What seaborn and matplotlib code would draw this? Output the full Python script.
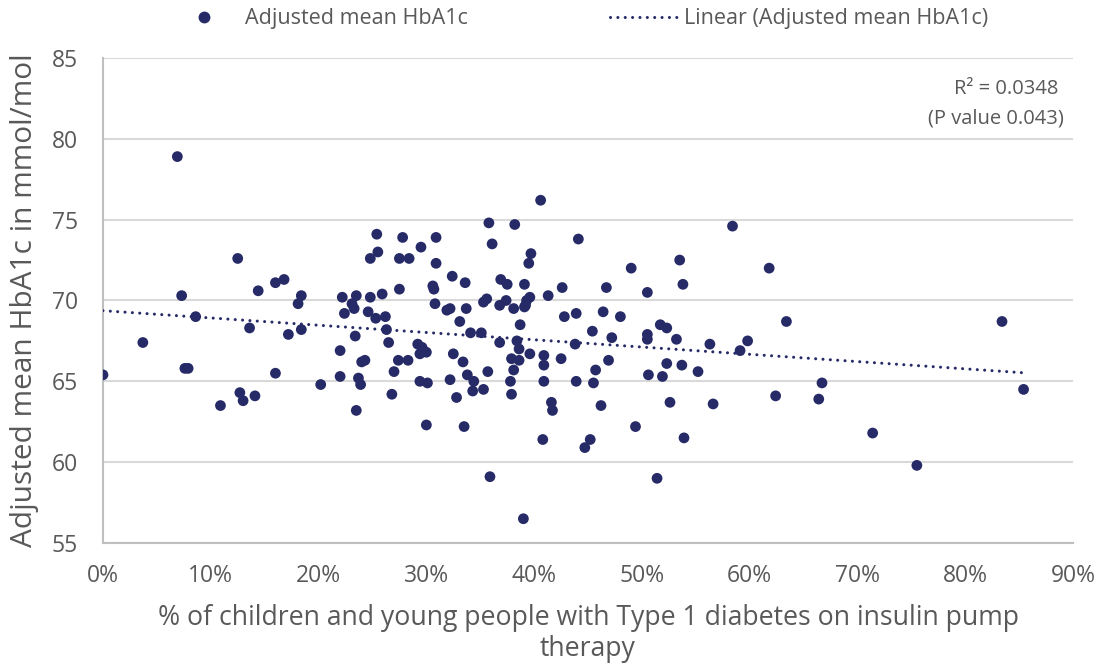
import numpy as np
import pandas as pd
import matplotlib
matplotlib.use("Agg")
import matplotlib.pyplot as plt
from matplotlib.lines import Line2D
import seaborn as sns

# % of CYP with Type 1 diabetes on insulin pump therapy, per unit
pump_pct = [
    0.0, 3.7, 6.9, 7.3, 7.6, 7.9, 8.6, 10.9, 12.5, 12.7, 13.0, 13.6, 14.1, 14.4,
    16.0, 16.0, 16.8, 17.2, 18.1, 18.4, 18.4, 20.2, 22.0, 22.0, 22.2, 22.4, 23.1,
    23.3, 23.4, 23.5, 23.5, 23.7, 23.9, 24.0, 24.3, 24.6, 24.8, 24.8, 25.3, 25.4,
    25.5, 25.9, 26.2, 26.3, 26.5, 26.8, 27.0, 27.4, 27.5, 27.5, 27.8, 28.3, 28.4,
    29.2, 29.4, 29.6, 29.4, 29.5, 30.0, 30.1, 30.0, 30.6, 30.7, 30.8, 30.9, 30.9,
    31.9, 32.2, 32.2, 32.4, 32.5, 32.8, 33.1, 33.4, 33.5, 33.6, 33.7, 33.8, 34.1,
    34.3, 34.4, 35.1, 35.3, 35.3, 35.6, 35.7, 35.8, 35.9, 36.1, 36.8, 36.8, 36.9,
    37.4, 37.5, 37.8, 37.9, 37.9, 38.1, 38.1, 38.2, 38.4, 38.6, 38.6, 38.7, 39.0,
    39.1, 39.1, 39.2, 39.3, 39.5, 39.6, 39.6, 39.7, 40.6, 40.8, 40.9, 40.9, 40.9,
    41.3, 41.6, 41.7, 42.5, 42.6, 42.8, 43.8, 43.9, 43.9, 44.1, 44.7, 45.2, 45.4,
    45.5, 45.7, 46.2, 46.4, 46.7, 46.9, 47.2, 48.0, 49.0, 49.4, 50.5, 50.5, 50.5,
    50.6, 51.4, 51.7, 51.9, 52.3, 52.3, 52.6, 53.2, 53.5, 53.7, 53.8, 53.9, 55.2,
    56.3, 56.6, 58.4, 59.1, 59.8, 61.8, 62.4, 63.4, 66.4, 66.7, 71.4, 75.5, 83.4,
    85.4,
]

# Adjusted mean HbA1c (mmol/mol), same order
hba1c = [
    65.4, 67.4, 78.9, 70.3, 65.8, 65.8, 69.0, 63.5, 72.6, 64.3, 63.8, 68.3, 64.1, 70.6,
    65.5, 71.1, 71.3, 67.9, 69.8, 70.3, 68.2, 64.8, 66.9, 65.3, 70.2, 69.2, 69.8,
    69.5, 67.8, 70.3, 63.2, 65.2, 64.8, 66.2, 66.3, 69.3, 72.6, 70.2, 68.9, 74.1,
    73.0, 70.4, 69.0, 68.2, 67.4, 64.2, 65.6, 66.3, 72.6, 70.7, 73.9, 66.3, 72.6,
    67.3, 66.7, 67.1, 65.0, 73.3, 66.8, 64.9, 62.3, 70.9, 70.7, 69.8, 73.9, 72.3,
    69.4, 69.5, 65.1, 71.5, 66.7, 64.0, 68.7, 66.2, 62.2, 71.1, 69.5, 65.4, 68.0,
    64.4, 65.0, 68.0, 69.9, 64.5, 70.1, 65.6, 74.8, 59.1, 73.5, 69.7, 67.4, 71.3,
    70.0, 71.0, 65.0, 66.4, 64.2, 69.5, 65.7, 74.7, 67.5, 67.0, 66.3, 68.5, 56.5,
    71.0, 69.6, 69.7, 70.0, 72.3, 70.2, 66.7, 72.9, 76.2, 61.4, 66.6, 66.0, 65.0,
    70.3, 63.7, 63.2, 66.4, 70.8, 69.0, 67.3, 69.2, 65.0, 73.8, 60.9, 61.4, 68.1,
    64.9, 65.7, 63.5, 69.3, 70.8, 66.3, 67.7, 69.0, 72.0, 62.2, 70.5, 67.9, 67.6,
    65.4, 59.0, 68.5, 65.3, 68.3, 66.1, 63.7, 67.6, 72.5, 66.0, 71.0, 61.5, 65.6,
    67.3, 63.6, 74.6, 66.9, 67.5, 72.0, 64.1, 68.7, 63.9, 64.9, 61.8, 59.8, 68.7,
    64.5,
]

x_ticks = [0, 10, 20, 30, 40, 50, 60, 70, 80, 90]
x_tick_labels = ["0%", "10%", "20%", "30%", "40%", "50%", "60%", "70%", "80%", "90%"]
y_ticks = [55, 60, 65, 70, 75, 80, 85]

series_name = "Adjusted mean HbA1c"
trend_name = "Linear (Adjusted mean HbA1c)"
r2_text = "R\u00b2 = 0.0348"
p_text = "(P value 0.043)"

df = pd.DataFrame({"pump": pump_pct, "hba1c": hba1c})

sns.set_theme(style="white")
plt.rcParams["font.family"] = ["Open Sans", "DejaVu Sans"]

NAVY = "#262a67"
TEXT = "#595959"
GRID = "#d9d9d9"
AXIS = "#bfbfbf"

fig = plt.figure(figsize=(11, 6.65), dpi=100)
ax = fig.add_axes([0.0936, 0.1835, 0.882, 0.7293])

dotted = (0, (0.01, 2.4))
sns.regplot(
    data=df, x="pump", y="hba1c", ax=ax, ci=None, truncate=True,
    scatter_kws=dict(s=60, color=NAVY, edgecolor="none", alpha=1, zorder=3),
    line_kws=dict(color=NAVY, lw=2.2, linestyle=dotted,
                  dash_capstyle="round", zorder=4),
)

ax.set_xlim(0, 90)
ax.set_ylim(55, 85)
ax.set_xticks(x_ticks)
ax.set_xticklabels(x_tick_labels)
ax.set_yticks(y_ticks)
ax.yaxis.grid(True, color=GRID, lw=1.5)
ax.set_axisbelow(True)
for side in ("top", "right"):
    ax.spines[side].set_visible(False)
for side in ("left", "bottom"):
    ax.spines[side].set_color(AXIS)
    ax.spines[side].set_linewidth(1.5)

ax.tick_params(axis="x", direction="inout", length=10, width=1.2, color=AXIS,
               labelsize=16.5, labelcolor=TEXT, pad=10)
ax.tick_params(axis="y", length=0, labelsize=16.5, labelcolor=TEXT, pad=18)

ax.set_xlabel("% of children and young people with Type 1 diabetes on insulin pump\ntherapy",
              fontsize=19.2, color=TEXT, labelpad=12, linespacing=1.1)
ax.set_ylabel("Adjusted mean HbA1c in mmol/mol", fontsize=21.5, color=TEXT, labelpad=9)

ax.text(0.985, 0.937, r2_text, transform=ax.transAxes, ha="right", va="center",
        fontsize=14.5, color=TEXT)
ax.text(0.99, 0.875, p_text, transform=ax.transAxes, ha="right", va="center",
        fontsize=14.5, color=TEXT)

handles = [
    Line2D([], [], marker="o", linestyle="none", color=NAVY, markersize=7.5),
    Line2D([], [], color=NAVY, lw=2.2, linestyle=dotted, dash_capstyle="round"),
]
fig.legend(handles, [series_name, trend_name], loc="center",
           bbox_to_anchor=(0.527, 0.972), ncol=2, frameon=False,
           fontsize=15.5, labelcolor=TEXT, handlelength=3.1, handletextpad=0.35,
           columnspacing=6.6)

fig.savefig("out.png", dpi=100)
